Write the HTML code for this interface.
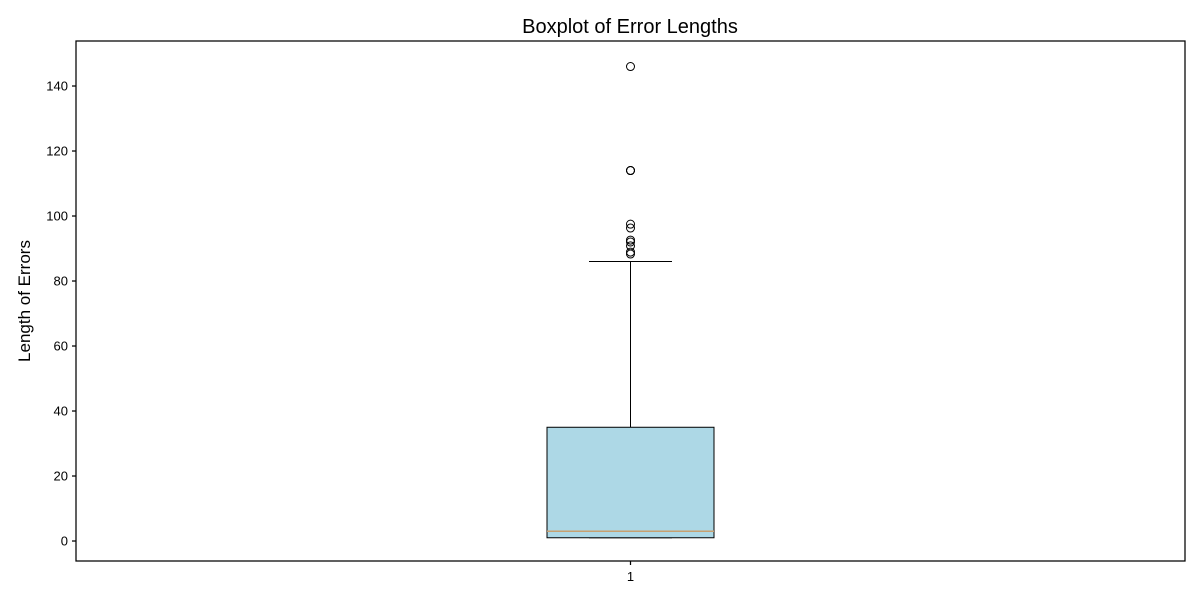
<!DOCTYPE html>
<html><head><meta charset="utf-8"><style>
body{margin:0;background:#fff;font-family:"Liberation Sans","DejaVu Sans",sans-serif}
</style></head><body>
<svg id="c" width="1200" height="600" xmlns="http://www.w3.org/2000/svg">
<text x="630" y="33" font-size="20" text-anchor="middle">Boxplot of Error Lengths</text>
<text transform="translate(30,301) rotate(-90)" font-size="17" text-anchor="middle">Length of Errors</text>
<g id="g"></g>
<rect x="76" y="41" width="1109" height="520" fill="none" stroke="#000" stroke-width="1.25"/>
</svg>
<script>
const categories=["1"];
const q1=[1],median=[3],q3=[35],whiskerLow=[1],whiskerHigh=[86];
const outliers=[[146,114,114,114,97.5,96.3,92.6,92,90.8,88.9,88.3]];
const yTicks=[0,20,40,60,80,100,120,140];
const L=76,R=1185,T=41,B=561,yMin=-6.15,yMax=153.85;
const y=v=>B-(v-yMin)/(yMax-yMin)*(B-T);
const x=i=>L+(i+0.5)*(R-L)/categories.length;
const g=document.getElementById('g');const NS="http://www.w3.org/2000/svg";
function mk(t,a){const e=document.createElementNS(NS,t);for(const k in a)e.setAttribute(k,a[k]);g.appendChild(e);return e;}
yTicks.forEach(v=>{
 const l=mk('line',{x1:L-4,x2:L,y1:y(v),y2:y(v),stroke:'#000','stroke-width':1.25});
 
 
 const t=mk('text',{x:L-8,y:y(v)+4.5,'font-size':13,'text-anchor':'end'});t.textContent=v;
 
 
});
categories.forEach((c,i)=>{
 const cx=x(i),hw=83.5,cw=41.5;
 const tk=mk('line',{x1:cx,x2:cx,y1:B,y2:B+4,stroke:'#000','stroke-width':1.25});
 
 
 const t=mk('text',{x:cx,y:B+20,'font-size':13,'text-anchor':'middle'});t.textContent=c;
 
 
 const w1=mk('line',{x1:cx,x2:cx,y1:y(q3[i]),y2:y(whiskerHigh[i]),stroke:'#000'});
 
 
 const w2=mk('line',{x1:cx,x2:cx,y1:y(q1[i]),y2:y(whiskerLow[i]),stroke:'#000'});
 
 
 const c1=mk('line',{x1:cx-cw,x2:cx+cw,y1:y(whiskerHigh[i]),y2:y(whiskerHigh[i]),stroke:'#000'});
 
 
 const c2=mk('line',{x1:cx-cw,x2:cx+cw,y1:y(whiskerLow[i]),y2:y(whiskerLow[i]),stroke:'#000'});
 
 
 const b=mk('rect',{x:cx-hw,y:y(q3[i]),width:2*hw,height:y(q1[i])-y(q3[i]),fill:'#add8e6',stroke:'#000'});
 
 
 const m=mk('line',{x1:cx-hw,x2:cx+hw,y1:y(median[i]),y2:y(median[i]),stroke:'#c8a070','stroke-width':1.5});
 
 
 outliers[i].forEach(v=>{
  const o=mk('circle',{cx:cx,cy:y(v),r:4,fill:'none',stroke:'#000'});
  
  
 });
});
</script>
</body></html>
